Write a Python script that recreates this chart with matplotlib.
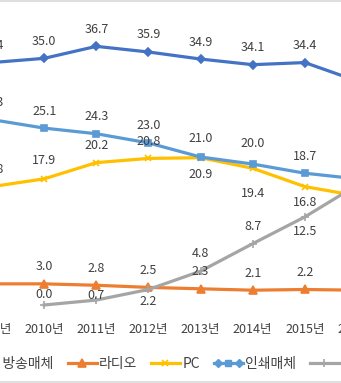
import numpy as np
import matplotlib
matplotlib.use('Agg')
import matplotlib.pyplot as plt
from matplotlib.lines import Line2D
from matplotlib.legend_handler import HandlerLine2D

plt.rcParams['font.family'] = ['Noto Sans CJK KR', 'DejaVu Sans']

# data (first/last year partly cut off)
years = ['2009년', '2010년', '2011년', '2012년', '2013년', '2014년', '2015년', '2016년']
broadcast = [34.4, 35.0, 36.7, 35.9, 34.9, 34.1, 34.4, 31.8]
radio = [3.0, 3.0, 2.8, 2.5, 2.3, 2.1, 2.2, 2.1]
pc = [16.8, 17.9, 20.2, 20.8, 20.9, 19.4, 16.8, 15.5]
prt = [26.3, 25.1, 24.3, 23.0, 21.0, 20.0, 18.7, 17.9]
smart = [np.nan, 0.0, 0.7, 2.2, 4.8, 8.7, 12.5, 17.0]
names = ['지상파 방송매체', '라디오', 'PC', '인쇄매체', '스마트폰']

# label offsets in pixels (+ above, - below)
off_broadcast = [17] * 8
off_radio = [17] * 8
off_pc = [17, 18, 17, 17, -17, -25, -16, -16]
off_prt = [17, 17, 17, 17, 19, 21, 17, 17]
off_smart = [0, 10, 5, -12, 18, 17, -15, -15]

c_bc = '#4472C4'
c_ra = '#ED7D31'
c_pc = '#FFC000'
c_pr = '#5B9BD5'
c_sm = '#A5A5A5'
txt = '#404040'

fig = plt.figure(figsize=(3.41, 3.83), dpi=100)
W, H = 341.0, 383.0
ax = fig.add_axes([-34 / W, (H - 305) / H, 417 / W, 296 / H])
x = np.arange(len(years))

series = [
    (broadcast, c_bc, 'D', 4.5, off_broadcast),
    (radio, c_ra, '^', 5.5, off_radio),
    (pc, c_pc, 'x', 5, off_pc),
    (prt, c_pr, 's', 5, off_prt),
    (smart, c_sm, '+', 6, off_smart),
]
lines = []
for (vals, col, mk, ms, offs), nm in zip(series, names):
    ln, = ax.plot(x, vals, color=col, lw=2.3, marker=mk, ms=ms, mew=1.2,
                  label=nm, clip_on=False, zorder=3)
    lines.append(ln)
    for i, v in enumerate(vals):
        if np.isnan(v):
            continue
        ax.annotate('%.1f' % v, (x[i], v), xytext=(0, offs[i]),
                    textcoords='offset pixels', ha='center', va='center',
                    fontsize=9, color=txt, annotation_clip=False, zorder=4)

ax.set_xlim(-0.5, 7.5)
ax.set_ylim(0, 42)
ax.set_xticks(x)
ax.set_xticklabels(years, fontsize=9, color=txt)
ax.tick_params(axis='x', length=0, pad=13)
ax.set_yticks([])
for s in ax.spines.values():
    s.set_visible(False)

# legend (print media entry shows an extra diamond at the left end)
h_print = Line2D([], [], color=c_pr, lw=2.3, marker='s', ms=5)
h_dia = Line2D([], [], color=c_pr, lw=0, marker='D', ms=4.5, markevery=[0])
handles = [lines[0], lines[1], lines[2], (h_print, h_dia), lines[4]]
leg = fig.legend(handles, names, loc='center left', bbox_to_anchor=(-70 / W, 1 - 364 / H),
                 ncol=5, frameon=False, fontsize=10, handlelength=2.1,
                 handletextpad=0.15, columnspacing=1.0, borderpad=0, borderaxespad=0,
                 handler_map={h_dia: HandlerLine2D(numpoints=2)})
for t in leg.get_texts():
    t.set_color(txt)

# chart border lines (top and bottom)
fig.add_artist(Line2D([0, 1], [1 - 0.8 / H, 1 - 0.8 / H], color='#D9D9D9', lw=1.2))
fig.add_artist(Line2D([0, 1], [1 - 381.5 / H, 1 - 381.5 / H], color='#D9D9D9', lw=1.2))

fig.savefig('out.png', dpi=100)
